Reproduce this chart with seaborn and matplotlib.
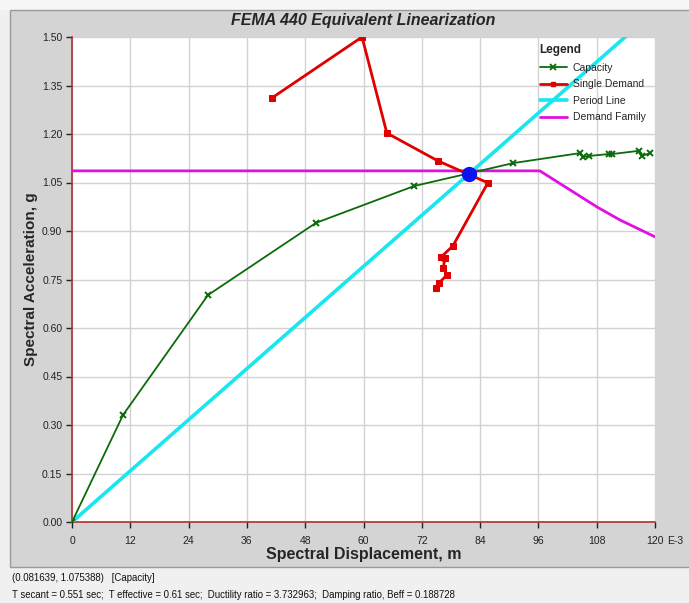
import numpy as np
import pandas as pd
import seaborn as sns
import matplotlib.pyplot as plt
from matplotlib.patches import Rectangle
from matplotlib.lines import Line2D

# spectral displacement in E-3 m, spectral acceleration in g
capacity_sd = [0.0, 10.5, 28.0, 50.2, 70.4, 90.8, 104.6, 105.2, 106.4, 110.5, 111.2, 116.7, 117.3, 119.0]
capacity_sa = [0.0, 0.331, 0.702, 0.925, 1.039, 1.110, 1.141, 1.129, 1.132, 1.138, 1.138, 1.148, 1.132, 1.141]

demand_sd = [41.2, 59.7, 64.8, 75.3, 85.6, 78.4, 76.0, 76.8, 76.4, 77.2, 75.5, 74.9]
demand_sa = [1.312, 1.500, 1.203, 1.117, 1.049, 0.854, 0.820, 0.817, 0.786, 0.764, 0.739, 0.724]

period_sd = [0.0, 120.0]
period_sa = [0.0, 1.581]

family_sd = [0.0, 96.3, 108.1, 112.8, 120.0]
family_sa = [1.086, 1.086, 0.974, 0.934, 0.882]

perf_point = (81.639, 1.075388)

x_ticks = [0, 12, 24, 36, 48, 60, 72, 84, 96, 108, 120]
y_ticks = [0.0, 0.15, 0.30, 0.45, 0.60, 0.75, 0.90, 1.05, 1.20, 1.35, 1.50]

status_1 = "(0.081639, 1.075388)   [Capacity]"
status_2 = ("T secant = 0.551 sec;  T effective = 0.61 sec;  Ductility ratio = 3.732963;  "
            "Damping ratio, Beff = 0.188728")

sns.set_style("white")
plt.rcParams['font.family'] = ['Liberation Sans', 'DejaVu Sans']

W, H = 689, 603
fig = plt.figure(figsize=(W / 100, H / 100), dpi=100)
fig.patch.set_facecolor('#f0f0f0')

def px(x0, y0, w, h):
    return (x0 / W, 1 - (y0 + h) / H, w / W, h / H)

# grey chart panel + top strip
fig.patches.append(Rectangle((0, 1 - 10 / H), 1, 10 / H, transform=fig.transFigure,
                             facecolor='#f7f7f7', edgecolor='none', zorder=-2))
l, b, w, h = px(10, 10, 690, 557)
fig.patches.append(Rectangle((l, b), w, h, transform=fig.transFigure,
                             facecolor='#d4d4d4', edgecolor='#9a9a9a', lw=1, zorder=-1))

ax = fig.add_axes(px(72, 37, 583, 485))
ax.set_facecolor('white')

sns.lineplot(x=period_sd, y=period_sa, ax=ax, color='#19e6ee', lw=2.6, sort=False,
             estimator=None, zorder=3)
sns.lineplot(x=family_sd, y=family_sa, ax=ax, color='#e010e0', lw=2.0, sort=False,
             estimator=None, zorder=3)
sns.lineplot(x=capacity_sd, y=capacity_sa, ax=ax, color='#0b6b0b', lw=1.3, sort=False,
             estimator=None, marker='x', markersize=5, markeredgewidth=1.4,
             markeredgecolor='#0b6b0b', zorder=4)
sns.lineplot(x=demand_sd, y=demand_sa, ax=ax, color='#e00000', lw=2.0, sort=False,
             estimator=None, marker='s', markersize=5, markeredgecolor='#e00000', zorder=5)
ax.plot(*perf_point, 'o', color='#0a14f0', markersize=10, zorder=6)

ax.set_xlim(0, 120)
ax.set_ylim(0, 1.5)
ax.set_xticks(x_ticks)
ax.set_xticklabels([str(t) for t in x_ticks])
ax.set_yticks(y_ticks)
ax.set_yticklabels([f"{t:.2f}" for t in y_ticks])
ax.grid(True, color='#d2d2d2', lw=1)
ax.set_axisbelow(True)
ax.tick_params(axis='both', labelsize=7.5, colors='#222222', length=4, width=1,
               direction='out', left=True, bottom=True, pad=3)
ax.tick_params(axis='x', pad=6)

for side in ['top', 'right']:
    ax.spines[side].set_visible(False)
for side in ['left', 'bottom']:
    ax.spines[side].set_color('#b03030')
    ax.spines[side].set_linewidth(1.2)

fig.text(667 / W, 1 - 541 / H, "E-3", fontsize=7.5, color='#222222', ha='left', va='center')

ax.set_xlabel("Spectral Displacement, m", fontsize=11.5, fontweight='bold', labelpad=1)
ax.set_ylabel("Spectral Acceleration, g", fontsize=11, fontweight='bold', labelpad=3)
fig.text(363 / W, 1 - 20 / H, "FEMA 440 Equivalent Linearization",
         fontsize=11.5, fontweight='bold', fontstyle='italic', ha='center', va='center')

handles = [
    Line2D([], [], color='#0b6b0b', lw=1.3, marker='x', markersize=4, markeredgewidth=1.3),
    Line2D([], [], color='#e00000', lw=2.0, marker='s', markersize=3.5),
    Line2D([], [], color='#19e6ee', lw=2.6),
    Line2D([], [], color='#e010e0', lw=2.0),
]
labels = ["Capacity", "Single Demand", "Period Line", "Demand Family"]
leg = ax.legend(handles, labels, title="Legend", loc='upper left', bbox_to_anchor=(0.786, 1.004),
                frameon=False, fontsize=7.5, title_fontproperties={'weight': 'bold', 'size': 8.5},
                handlelength=2.6, handletextpad=0.6, labelspacing=0.62, alignment='left')

fig.text(12 / W, 1 - 578 / H, status_1, fontsize=6.95, ha='left', va='center', color='#111111')
fig.text(12 / W, 1 - 595 / H, status_2, fontsize=6.95, ha='left', va='center', color='#111111')

fig.savefig("out.png", dpi=100, facecolor=fig.get_facecolor())
